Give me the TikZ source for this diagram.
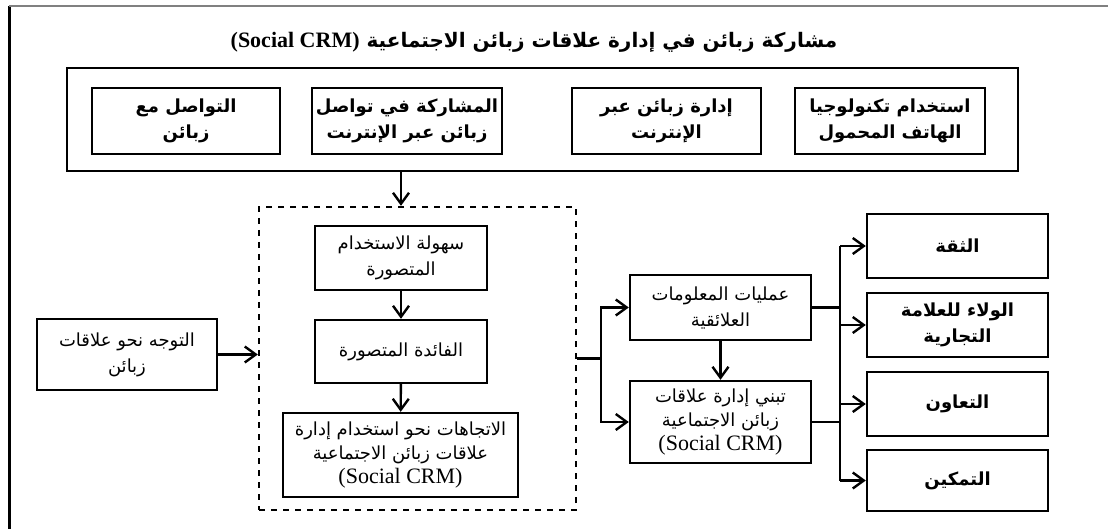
\documentclass[tikz,border=0pt]{standalone}
\usepackage{fontspec}
\setmainfont{Liberation Serif}
\newfontfamily\arabicfont[Script=Arabic]{DejaVu Sans}
\TeXXeTstate=1
\usetikzlibrary{arrows.meta}
\newcommand\artxt[1]{{\arabicfont\beginR #1\endR}}
\newcommand\latn[1]{\beginL{\rmfamily #1}\endL}

\begin{document}
\begin{tikzpicture}[x=0.5pt, y=-0.5pt,
    >={Straight Barb[length=5.5pt,width=8pt]},
    box/.style={draw, line width=1.2pt, align=center, inner sep=2pt,
      font=\fontsize{9}{13}\selectfont},
    bbox/.style={box, font=\fontsize{9}{13}\selectfont\bfseries},
    sz/.style 2 args={minimum width=#1*0.5pt, minimum height=#2*0.5pt},
    link/.style={line width=1.2pt}]
      \useasboundingbox (0,0) rectangle (1108,529);
      \draw [line width=1.5pt] (9,6) -- (9,529);
      \draw [gray, line width=0.6pt] (9,6) -- (1108,6);

      % title and top group
      \draw (534,42) node (title) [font=\fontsize{10}{12}\selectfont\bfseries]
        {\artxt{مشاركة زبائن في إدارة علاقات زبائن الاجتماعية \latn{\fontsize{11}{12}\selectfont(Social CRM)}}};
      \draw (542.5,119.5) node (topbox) [box, sz={951}{103}] {};
      \draw (186,121) node (t1) [bbox, sz={188}{66}] {\artxt{التواصل مع}\\\artxt{زبائن}};
      \draw (407,121) node (t2) [bbox, sz={190}{66}] {\artxt{المشاركة في تواصل}\\\artxt{زبائن عبر الإنترنت}};
      \draw (666.5,121) node (t3) [bbox, sz={189}{66}] {\artxt{إدارة زبائن عبر}\\\artxt{الإنترنت}};
      \draw (890,121) node (t4) [bbox, sz={190}{66}] {\artxt{استخدام تكنولوجيا}\\\artxt{الهاتف المحمول}};

      % dashed group
      \draw (417.5,358.5) node (dbox) [box, dashed, sz={317}{303}] {};
      \draw (401,258) node (ease) [box, sz={172}{64}] {\artxt{سهولة الاستخدام}\\\artxt{المتصورة}};
      \draw (401,351.5) node (useful) [box, sz={172}{63}] {\artxt{الفائدة المتصورة}};
      \draw (400.5,455) node (attit) [box, sz={235}{84}, font=\fontsize{9}{12}\selectfont]
        {\artxt{الاتجاهات نحو استخدام إدارة}\\\artxt{علاقات زبائن الاجتماعية}\\{\fontsize{11}{12}\selectfont(Social CRM)}};
      \draw [->][link] (ease |- topbox.south) -- (ease |- dbox.north);
      \draw [->][link] (ease) -- (useful);
      \draw [->][link] (useful) -- (attit);

      \draw (127,354.5) node (orient) [box, sz={180}{71}] {\artxt{التوجه نحو علاقات}\\\artxt{زبائن}};
      \draw [->][link] (orient.east) -- (orient.east -| dbox.west);

      % outcomes
      \draw (720.5,307.5) node (info) [box, sz={181}{65}] {\artxt{عمليات المعلومات}\\\artxt{العلائقية}};
      \draw (720.5,422) node (adopt) [box, sz={181}{82}, font=\fontsize{9}{12}\selectfont]
        {\artxt{تبني إدارة علاقات}\\\artxt{زبائن الاجتماعية}\\{\fontsize{11}{12}\selectfont(Social CRM)}};
      \coordinate (split) at (601,358.5);
      \draw [link] (dbox.east) -- (split);
      \draw [->][link] (split) |- (info.west);
      \draw [->][link] (split) |- (adopt.west);
      \draw [->][link] (info) -- (adopt);

      \draw (957.5,246) node (trust) [bbox, sz={181}{64}] {\artxt{الثقة}};
      \draw (957.5,325) node (loyal) [bbox, sz={181}{64}] {\artxt{الولاء للعلامة}\\\artxt{التجارية}};
      \draw (957.5,404) node (collab) [bbox, sz={181}{64}] {\artxt{التعاون}};
      \draw (957.5,480.5) node (empow) [bbox, sz={181}{61}] {\artxt{التمكين}};
      \coordinate (bustop) at (840,246);
      \coordinate (busend) at (840,480.5);
      \draw [link] (bustop) -- (busend);
      \draw [link] (info.east) -- (info.east -| bustop);
      \draw [link] (adopt.east) -- (adopt.east -| bustop);
      \foreach \n in {trust,loyal,collab,empow}
        \draw [->][link] (bustop |- \n.west) -- (\n.west);
    \end{tikzpicture}
\end{document}
